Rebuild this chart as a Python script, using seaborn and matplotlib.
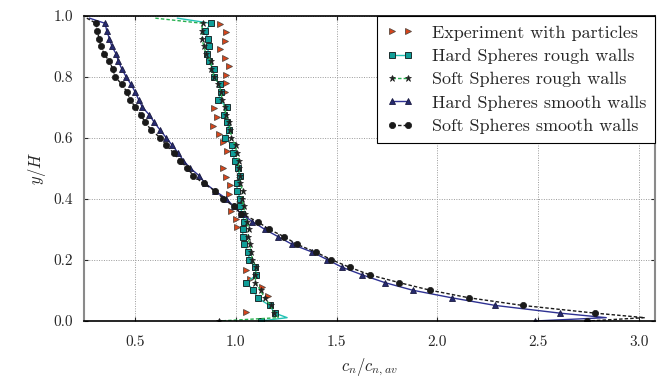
import matplotlib
matplotlib.use("Agg")
import matplotlib.pyplot as plt
import pandas as pd
import seaborn as sns

# y positions of the simulation bins (shared by all four simulations)
y_bins = [0.976, 0.951, 0.926, 0.901, 0.876, 0.851, 0.826, 0.801, 0.776, 0.751,
          0.726, 0.701, 0.676, 0.651, 0.626, 0.601, 0.576, 0.551, 0.526, 0.501,
          0.476, 0.451, 0.426, 0.401, 0.376, 0.351, 0.326, 0.301, 0.276, 0.251,
          0.226, 0.201, 0.176, 0.151, 0.126, 0.101, 0.076, 0.051, 0.026]
y_top = [0.993]
y_bottom = [0.011, 0.0]

# Hard spheres, rough walls
hs_rough_top = [0.709]
hs_rough = [0.877, 0.848, 0.860, 0.868, 0.857, 0.866, 0.890, 0.890, 0.920, 0.925,
            0.913, 0.958, 0.939, 0.956, 0.968, 0.944, 0.981, 0.984, 0.994, 1.009,
            1.019, 1.006, 1.006, 1.022, 1.022, 1.031, 1.042, 1.034, 1.034, 1.042,
            1.061, 1.067, 1.094, 1.102, 1.052, 1.086, 1.108, 1.167, 1.193]
hs_rough_bottom = [1.254, 1.122]

# Soft spheres, rough walls
ss_rough_top = [0.600]
ss_rough = [0.835, 0.830, 0.832, 0.840, 0.853, 0.877, 0.878, 0.893, 0.913, 0.926,
            0.931, 0.944, 0.951, 0.964, 0.973, 0.978, 0.998, 1.003, 1.014, 1.014,
            1.022, 1.022, 1.034, 1.031, 1.039, 1.047, 1.056, 1.064, 1.059, 1.069,
            1.077, 1.081, 1.102, 1.097, 1.097, 1.122, 1.142, 1.172, 1.188]
ss_rough_bottom = [1.210, 0.914]

# Hard spheres, smooth walls
hs_smooth_top = [0.273]
hs_smooth = [0.351, 0.359, 0.372, 0.384, 0.405, 0.417, 0.434, 0.455, 0.479, 0.500,
             0.517, 0.536, 0.570, 0.595, 0.624, 0.654, 0.684, 0.714, 0.739, 0.774,
             0.818, 0.848, 0.898, 0.953, 0.988, 1.027, 1.082, 1.142, 1.211, 1.280,
             1.379, 1.454, 1.528, 1.628, 1.739, 1.877, 2.072, 2.288, 2.606]
hs_smooth_bottom = [2.838, 2.482]

# Soft spheres, smooth walls
ss_smooth_top = [0.260]
ss_smooth = [0.306, 0.312, 0.321, 0.329, 0.346, 0.372, 0.389, 0.400, 0.434, 0.459,
             0.475, 0.500, 0.528, 0.550, 0.580, 0.624, 0.654, 0.691, 0.724, 0.759,
             0.789, 0.840, 0.898, 0.938, 0.988, 1.027, 1.108, 1.163, 1.241, 1.304,
             1.396, 1.474, 1.565, 1.666, 1.810, 1.964, 2.158, 2.424, 2.780]
ss_smooth_bottom = [3.029, 2.744]

# Experiment
exp_y = [0.974, 0.946, 0.919, 0.891, 0.862, 0.835, 0.807, 0.779, 0.752, 0.697,
         0.669, 0.641, 0.614, 0.586, 0.558, 0.502, 0.472, 0.445, 0.417, 0.362,
         0.336, 0.307, 0.166, 0.138, 0.110, 0.082, 0.028]
exp_x = [0.919, 0.953, 0.948, 0.923, 0.946, 0.964, 0.953, 0.950, 0.944, 0.889,
         0.906, 0.885, 0.918, 0.936, 0.956, 0.934, 0.951, 0.969, 0.965, 0.976,
         0.998, 1.003, 1.050, 1.069, 1.127, 1.160, 1.052]

x_ticks = [0.5, 1.0, 1.5, 2.0, 2.5, 3.0]
y_ticks = [0.0, 0.2, 0.4, 0.6, 0.8, 1.0]


def profile(top, mid, bottom):
    return pd.DataFrame({"c": top + mid + bottom, "y": y_top + y_bins + y_bottom})


# markers on every point except the two near-wall line vertices
n_pts = 1 + len(y_bins) + 2
mark_idx = list(range(1, n_pts - 2)) + [n_pts - 1]

sns.set_style("ticks")
plt.rcParams["font.family"] = "serif"
plt.rcParams["font.serif"] = ["cmr10", "DejaVu Serif"]
plt.rcParams["mathtext.fontset"] = "cm"
plt.rcParams["axes.formatter.use_mathtext"] = True

fig = plt.figure(figsize=(6.64, 3.77), dpi=100)
ax = fig.add_axes([0.1265, 0.1485, 0.86, 0.809])

sns.lineplot(data=pd.DataFrame({"c": exp_x, "y": exp_y}), x="c", y="y", sort=False,
             estimator=None, linestyle="none", marker=">", markersize=4.8,
             color="#d9441a", markeredgecolor="#5a4a40", markeredgewidth=0.6,
             label="Experiment with particles", ax=ax)
sns.lineplot(data=profile(hs_rough_top, hs_rough, hs_rough_bottom), x="c", y="y",
             sort=False, estimator=None, color="#22c2b4", linewidth=1.0,
             marker="s", markersize=4.8, markevery=mark_idx,
             markerfacecolor="#109e98", markeredgecolor="#1c2e2e", markeredgewidth=0.7,
             label="Hard Spheres rough walls", ax=ax)
sns.lineplot(data=profile(ss_rough_top, ss_rough, ss_rough_bottom), x="c", y="y",
             sort=False, estimator=None, color="#27b050", linewidth=1.0,
             linestyle=(0, (2.5, 1.5)), marker="*", markersize=4.8, markevery=mark_idx,
             markerfacecolor="#202020", markeredgecolor="#202020", markeredgewidth=0.5,
             label="Soft Spheres rough walls", ax=ax)
sns.lineplot(data=profile(hs_smooth_top, hs_smooth, hs_smooth_bottom), x="c", y="y",
             sort=False, estimator=None, color="#2e3192", linewidth=1.0,
             marker="^", markersize=4.8, markevery=mark_idx,
             markerfacecolor="#262a70", markeredgecolor="#1a1a40", markeredgewidth=0.6,
             label="Hard Spheres smooth walls", ax=ax)
sns.lineplot(data=profile(ss_smooth_top, ss_smooth, ss_smooth_bottom), x="c", y="y",
             sort=False, estimator=None, color="#1a1a1a", linewidth=1.0,
             linestyle=(0, (2.5, 1.5)), marker="o", markersize=4.5, markevery=mark_idx,
             markerfacecolor="#1a1a1a", markeredgecolor="#1a1a1a", markeredgewidth=0.5,
             label="Soft Spheres smooth walls", ax=ax)

ax.set_xlim(0.246, 3.08)
ax.set_ylim(0.0, 1.0)
ax.set_xticks(x_ticks)
ax.set_yticks(y_ticks)
ax.set_xticklabels([f"{v:.1f}" for v in x_ticks])
ax.set_yticklabels([f"{v:.1f}" for v in y_ticks])
ax.tick_params(direction="in", length=3, top=True, right=True, labelsize=11)
ax.tick_params(axis="x", pad=10)
ax.tick_params(axis="y", pad=8)
ax.grid(True, linestyle=(0, (1, 1.5)), color="#9a9a9a", linewidth=0.7)
for side in ["top", "bottom"]:
    ax.spines[side].set_color("black")
    ax.spines[side].set_linewidth(1.2)
for side in ["left", "right"]:
    ax.spines[side].set_color("#8a8a8a")
    ax.spines[side].set_linewidth(1.5)

ax.set_xlabel("$c_n/c_{n,av}$", fontsize=12, labelpad=6)
ax.set_ylabel("$y/H$", fontsize=12, labelpad=4)

leg = ax.legend(loc="upper right", fontsize=13, numpoints=2, handlelength=1.5,
                handletextpad=1.0, frameon=True, fancybox=False, edgecolor="black",
                framealpha=1, borderaxespad=0.0, labelspacing=0.42, borderpad=0.5)
leg.get_frame().set_linewidth(0.8)

fig.savefig("out.png", dpi=100)
